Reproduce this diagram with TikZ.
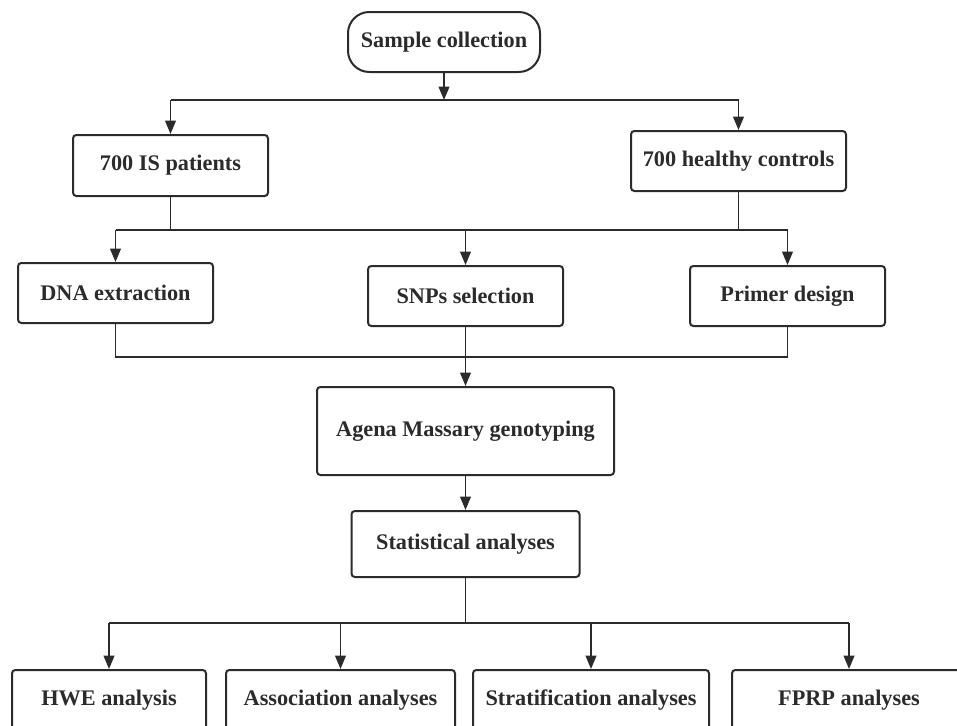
\documentclass[tikz,border=0pt]{standalone}
\usepackage{fontspec}
\setmainfont{Liberation Serif}
\usetikzlibrary{arrows.meta}
\definecolor{ink}{HTML}{2B2B2B}
\begin{document}
\begin{tikzpicture}[x=0.75pt,y=-0.75pt,
  box/.style={draw=ink,line width=1.5pt,rounded corners=2.5pt,fill=white,inner sep=0pt,
    font=\fontsize{16.7}{19}\selectfont\bfseries,text=ink},
  conn/.style={draw=ink,line width=1.35pt},
  arr/.style={conn,-{Triangle[length=10pt,width=8pt]}}]
\useasboundingbox (0,0) rectangle (957,725);
\clip (0,0) rectangle (957,725);
\node[box,rounded corners=16pt,minimum width=192*0.75pt,minimum height=60*0.75pt] (sc) at (444,42) {Sample collection};
\node[box,minimum width=195*0.75pt,minimum height=61*0.75pt] (isp) at (170.5,165.5) {700 IS patients};
\node[box,minimum width=215*0.75pt,minimum height=60*0.75pt] (hc) at (738.5,161) {700 healthy controls};
\node[box,minimum width=195*0.75pt,minimum height=60*0.75pt] (dna) at (115.5,293) {DNA extraction};
\node[box,minimum width=195*0.75pt,minimum height=60*0.75pt] (snp) at (465.5,296) {SNPs selection};
\node[box,minimum width=195*0.75pt,minimum height=60*0.75pt] (pri) at (787.5,296) {Primer design};
\node[box,minimum width=297*0.75pt,minimum height=88*0.75pt] (agena) at (465.5,431) {Agena Massary genotyping};
\node[box,minimum width=228*0.75pt,minimum height=66*0.75pt] (stat) at (465.5,544) {Statistical analyses};
\node[box,minimum width=194*0.75pt,minimum height=60*0.75pt] (hwe) at (109,700) {HWE analysis};
\node[box,minimum width=229*0.75pt,minimum height=60*0.75pt] (asso) at (340.5,700) {Association analyses};
\node[box,minimum width=236*0.75pt,minimum height=60*0.75pt] (strat) at (591,700) {Stratification analyses};
\node[box,minimum width=234*0.75pt,minimum height=60*0.75pt] (fprp) at (849,700) {FPRP analyses};
\coordinate (j1) at (444,100);
\coordinate (j2) at (465.5,230);
\coordinate (j3) at (465.5,357);
\coordinate (j4) at (465.5,623);
% level 1
\draw[arr] (sc.south) -- (j1);
\draw[conn] (isp.north |- j1) -- (hc.north |- j1);
\draw[arr] (isp.north |- j1) -- (isp.north);
\draw[arr] (hc.north |- j1) -- (hc.north);
% level 2
\draw[conn] (isp.south) -- (isp.south |- j2);
\draw[conn] (hc.south) -- (hc.south |- j2);
\draw[conn] (dna.north |- j2) -- (pri.north |- j2);
\draw[arr] (dna.north |- j2) -- (dna.north);
\draw[arr] (snp.north |- j2) -- (snp.north);
\draw[arr] (pri.north |- j2) -- (pri.north);
% level 3
\draw[conn] (dna.south) -- (dna.south |- j3) -- (pri.south |- j3) -- (pri.south);
\draw[arr] (snp.south) -- (agena.north);
\draw[arr] (agena.south) -- (stat.north);
% level 4
\draw[conn] (stat.south) -- (j4);
\draw[conn] (hwe.north |- j4) -- (fprp.north |- j4);
\draw[arr] (hwe.north |- j4) -- (hwe.north);
\draw[arr] (asso.north |- j4) -- (asso.north);
\draw[arr] (strat.north |- j4) -- (strat.north);
\draw[arr] (fprp.north |- j4) -- (fprp.north);
\end{tikzpicture}
\end{document}
